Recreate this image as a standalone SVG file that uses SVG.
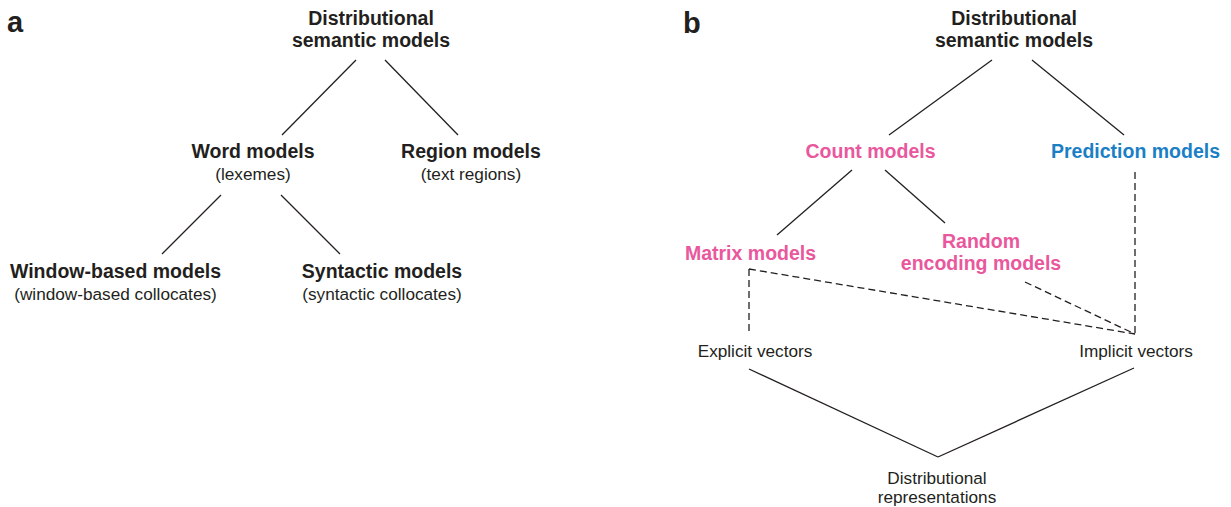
<svg xmlns="http://www.w3.org/2000/svg" width="1231" height="507" viewBox="0 0 1231 507">
<style>
  text { font-family: "Liberation Sans", Arial, sans-serif; fill: #231f20; text-anchor: middle; }
  .b { font-weight: bold; font-size: 19.5px; }
  .r { font-size: 17.2px; }
  .pink { fill: #e9579d; }
  .blue { fill: #1b7fc6; }
  .lbl { font-weight: bold; font-size: 29px; text-anchor: start; }
  .solid { stroke: #231f20; stroke-width: 1.3; fill: none; }
  .dash { stroke: #231f20; stroke-width: 1.3; fill: none; stroke-dasharray: 7 4; }
</style>
<rect width="1231" height="507" fill="#ffffff"/>

<g id="connectors">
  <line class="solid" x1="356" y1="60" x2="282" y2="135"/>
  <line class="solid" x1="385" y1="60" x2="458" y2="135"/>
  <line class="solid" x1="221" y1="195" x2="162" y2="254"/>
  <line class="solid" x1="281" y1="195" x2="340" y2="254"/>

  <line class="solid" x1="992" y1="60" x2="889" y2="135"/>
  <line class="solid" x1="1032" y1="60" x2="1124" y2="135"/>
  <line class="solid" x1="852" y1="170" x2="777" y2="235"/>
  <line class="solid" x1="885" y1="170" x2="945" y2="223"/>
  <line class="dash" x1="749" y1="269" x2="749" y2="334"/>
  <line class="dash" x1="749" y1="269" x2="1135" y2="334"/>
  <line class="dash" x1="1025" y1="282" x2="1135" y2="334"/>
  <line class="dash" x1="1135" y1="172" x2="1135" y2="334"/>
  <line class="solid" x1="749" y1="369" x2="938" y2="457"/>
  <line class="solid" x1="1134" y1="368" x2="938" y2="457"/>
</g>

<g id="panel-a-label"><text class="lbl" x="7" y="32">a</text></g>
<g id="a-dsm">
  <text class="b" x="371" y="25">Distributional</text>
  <text class="b" x="371" y="47">semantic models</text>
</g>
<g id="a-word">
  <text class="b" x="253" y="158">Word models</text>
  <text class="r" x="253" y="180">(lexemes)</text>
</g>
<g id="a-region">
  <text class="b" x="471" y="158">Region models</text>
  <text class="r" x="471" y="180">(text regions)</text>
</g>
<g id="a-window">
  <text class="b" x="115.5" y="278">Window-based models</text>
  <text class="r" x="115.5" y="300">(window-based collocates)</text>
</g>
<g id="a-syntactic">
  <text class="b" x="382" y="278">Syntactic models</text>
  <text class="r" x="382" y="300">(syntactic collocates)</text>
</g>

<g id="panel-b-label"><text class="lbl" x="683" y="33">b</text></g>
<g id="b-dsm">
  <text class="b" x="1014" y="25">Distributional</text>
  <text class="b" x="1014" y="47">semantic models</text>
</g>
<g id="b-count"><text class="b pink" x="870.5" y="158">Count models</text></g>
<g id="b-prediction"><text class="b blue" x="1135.5" y="158">Prediction models</text></g>
<g id="b-matrix"><text class="b pink" x="750.5" y="260">Matrix models</text></g>
<g id="b-random">
  <text class="b pink" x="981" y="248">Random</text>
  <text class="b pink" x="981" y="270">encoding models</text>
</g>
<g id="b-explicit"><text class="r" x="755" y="357">Explicit vectors</text></g>
<g id="b-implicit"><text class="r" x="1136" y="357">Implicit vectors</text></g>
<g id="b-distrep">
  <text class="r" x="937" y="484">Distributional</text>
  <text class="r" x="937" y="503">representations</text>
</g>
</svg>
